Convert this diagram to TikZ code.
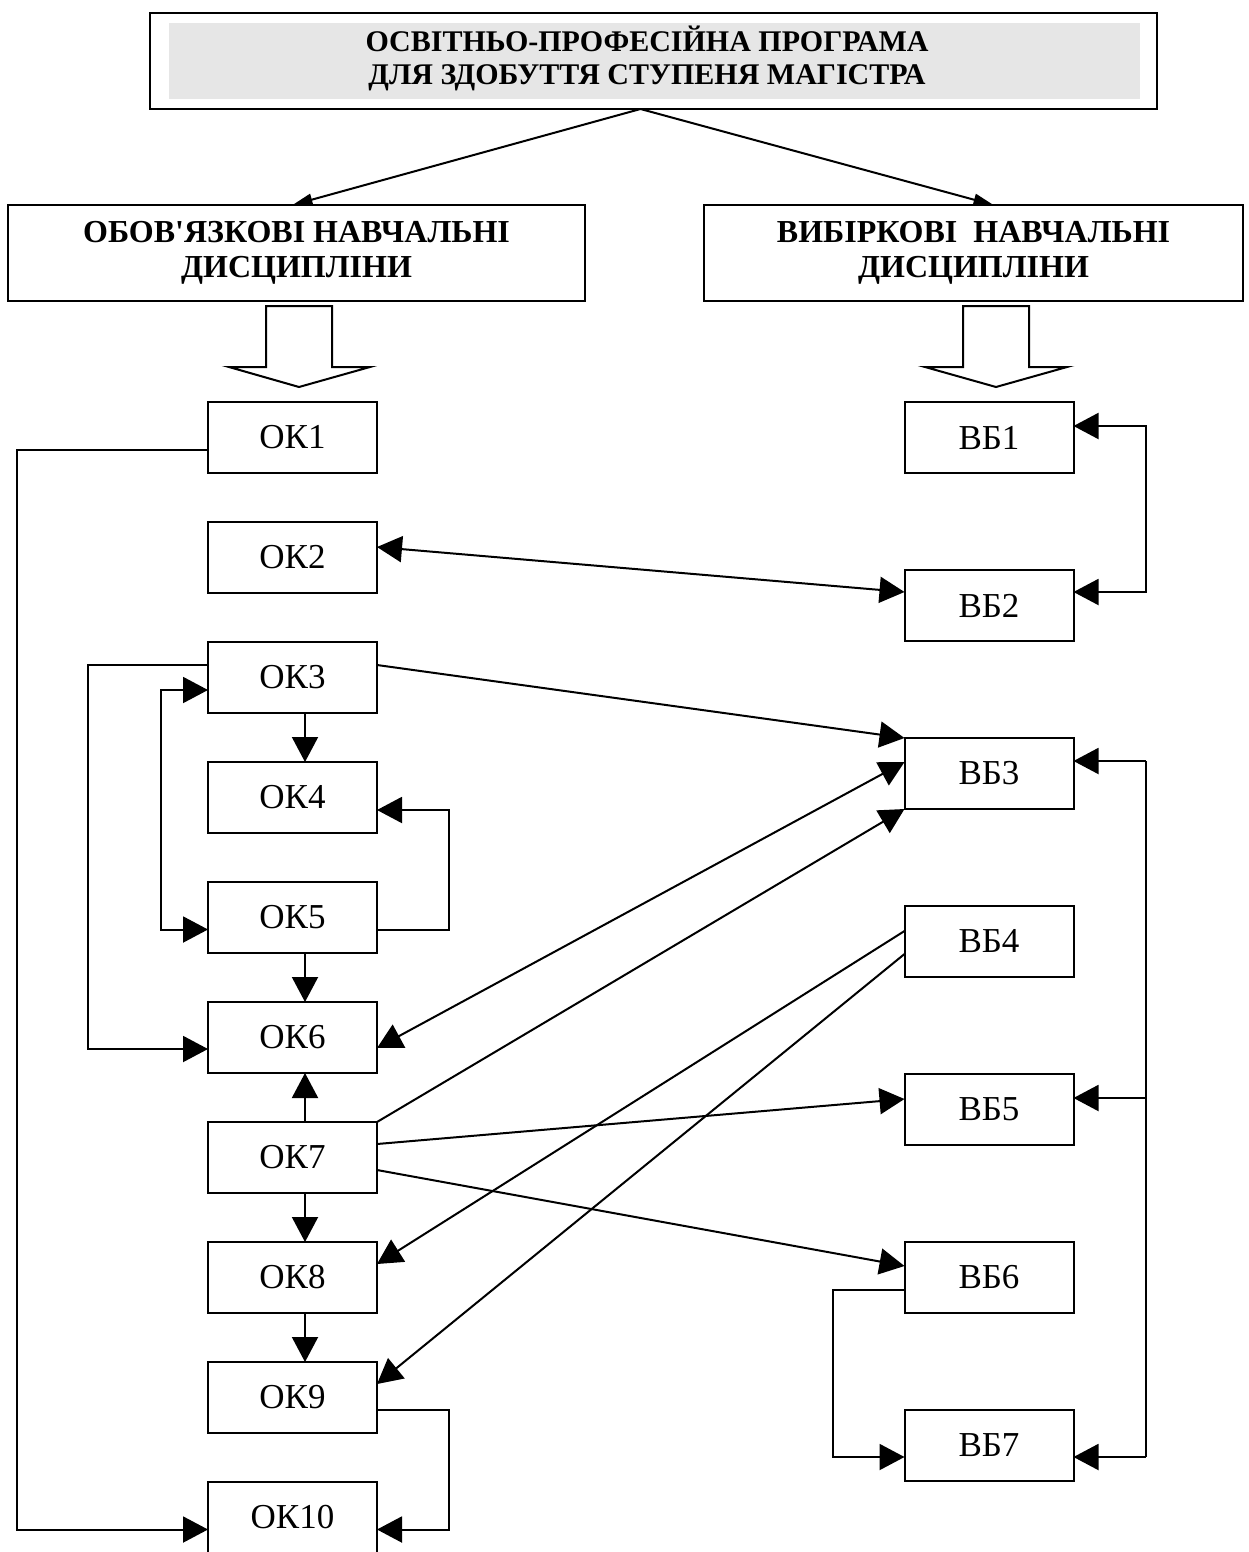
\documentclass[tikz,border=0pt]{standalone}
\usepackage{fontspec}
\setmainfont{Liberation Serif}[Ligatures=TeXOff]
\usetikzlibrary{arrows.meta,calc}
\definecolor{titlegray}{RGB}{230,230,230}
\tikzset{
  lw/.style={line width=2pt},
  box/.style={draw, lw, inner sep=0pt, outer sep=0pt, minimum width=169pt, minimum height=71pt,
    font=\fontsize{35}{40}\selectfont},
  hdr/.style={draw, lw, inner sep=0pt, outer sep=0pt, minimum height=96pt, align=center,
    font=\bfseries\fontsize{32}{35}\selectfont},
  arr/.style={lw, -{Triangle[length=25pt,width=26pt]}},
  dbl/.style={lw, {Triangle[length=25pt,width=26pt]}-{Triangle[length=25pt,width=26pt]}},
  toparr/.style={lw, -{Triangle[length=20pt,width=12pt]}},
  hollow/.style={lw, fill=white, line join=miter},
}
\begin{document}
\begin{tikzpicture}[x=1pt,y=-1pt]
\useasboundingbox (0,0) rectangle (1249,1552);
% title
\node[draw, line width=2.2pt, inner sep=0pt, outer sep=0pt, minimum width=1007pt, minimum height=96pt] (title) at (653.5,61) {};
\node[fill=titlegray, inner sep=0pt, outer sep=0pt, minimum width=971pt, minimum height=76pt] (titlefill) at (654.5,61) {};
\node[inner sep=0pt, align=center, font=\bfseries\fontsize{30}{33}\selectfont] (titletext) at (647,58.5)
  {ОСВІТНЬО-ПРОФЕСІЙНА ПРОГРАМА\\ДЛЯ ЗДОБУТТЯ СТУПЕНЯ МАГІСТРА};
% headers
\node[hdr, minimum width=577pt] (hdrL) at (296.5,253) {ОБОВ'ЯЗКОВІ НАВЧАЛЬНІ\\ДИСЦИПЛІНИ};
\node[hdr, minimum width=539pt] (hdrR) at (973.5,253) {ВИБІРКОВІ\ \ НАВЧАЛЬНІ\\ДИСЦИПЛІНИ};
\coordinate (apex) at ($(title.south)+(-13,0)$);
\draw[toparr] (apex) -- ($(hdrL.north)+(-4,0)$);
\draw[toparr] (apex) -- ($(hdrR.north)+(20,0)$);
% hollow arrows
\draw[hollow] (266,306) -- (332,306) -- (332,367) -- (370,367) -- (299,387) -- (229,367) -- (266,367) -- cycle;
\draw[hollow] (963,306) -- (1029,306) -- (1029,367) -- (1067,367) -- (996,387) -- (925,367) -- (963,367) -- cycle;
% OK boxes
\foreach \i in {1,...,10} {
  \node[box] (ok\i) at (292.5,{437.5+120*(\i-1)}) {ОК\i};
}
% VB boxes
\foreach \i in {1,...,7} {
  \node[box] (vb\i) at (989,{437.5+168*(\i-1)}) {ВБ\i};
}
% vertical arrows in OK column
\draw[arr] ($(ok3.south)+(12.5,0)$) -- ($(ok4.north)+(12.5,0)$);
\draw[arr] ($(ok5.south)+(12.5,0)$) -- ($(ok6.north)+(12.5,0)$);
\draw[arr] ($(ok7.north)+(12.5,0)$) -- ($(ok6.south)+(12.5,0)$);
\draw[arr] ($(ok7.south)+(12.5,0)$) -- ($(ok8.north)+(12.5,0)$);
\draw[arr] ($(ok8.south)+(12.5,0)$) -- ($(ok9.north)+(12.5,0)$);
% left loops
\draw[arr] ($(ok1.west)+(0,12)$) -- ++(-191,0) |- ($(ok10.west)+(0,12)$);
\draw[arr] ($(ok3.west)+(0,-12.5)$) -- ++(-120,0) |- ($(ok6.west)+(0,11.5)$);
\draw[dbl] ($(ok3.west)+(0,12.5)$) -- ++(-47,0) |- ($(ok5.west)+(0,12)$);
\draw[arr] ($(ok5.east)+(0,12)$) -- ++(72,0) |- ($(ok4.east)+(0,12.5)$);
\draw[arr] ($(ok9.east)+(0,12.5)$) -- ++(72,0) |- ($(ok10.east)+(0,12)$);
% right loops
\draw[dbl] ($(vb1.east)+(0,-11.5)$) -- ++(72,0) |- ($(vb2.east)+(0,-13.5)$);
\draw[arr] ($(vb6.west)+(0,12.5)$) -- ++(-72,0) |- ($(vb7.west)+(0,11.5)$);
\coordinate (busT) at ($(vb3.east)+(72,-12.5)$);
\coordinate (busB) at ($(vb7.east)+(72,11.5)$);
\draw[lw] (busT) -- (busB);
\draw[arr] (busT) -- ($(vb3.east)+(0,-12.5)$);
\draw[arr] ($(vb5.east)+(72,-11.5)$) -- ($(vb5.east)+(0,-11.5)$);
\draw[arr] (busB) -- ($(vb7.east)+(0,11.5)$);
% cross links
\draw[dbl] ($(ok2.east)+(0,-10.5)$) -- ($(vb2.west)+(0,-13.5)$);
\draw[arr] ($(ok3.east)+(0,-12.5)$) -- (vb3.north west);
\draw[dbl] ($(vb3.west)+(0,-11.5)$) -- ($(ok6.east)+(0,10.5)$);
\draw[arr] (ok7.north east) -- (vb3.south west);
\draw[arr] ($(vb4.west)+(0,-10.5)$) -- ($(ok8.east)+(0,-13.5)$);
\draw[arr] ($(vb4.west)+(0,12.5)$) -- ($(ok9.east)+(0,-13.5)$);
\draw[arr] ($(ok7.east)+(0,-13.5)$) -- ($(vb5.west)+(0,-10.5)$);
\draw[arr] ($(ok7.east)+(0,12.5)$) -- ($(vb6.west)+(0,-11.5)$);
\end{tikzpicture}
\end{document}
